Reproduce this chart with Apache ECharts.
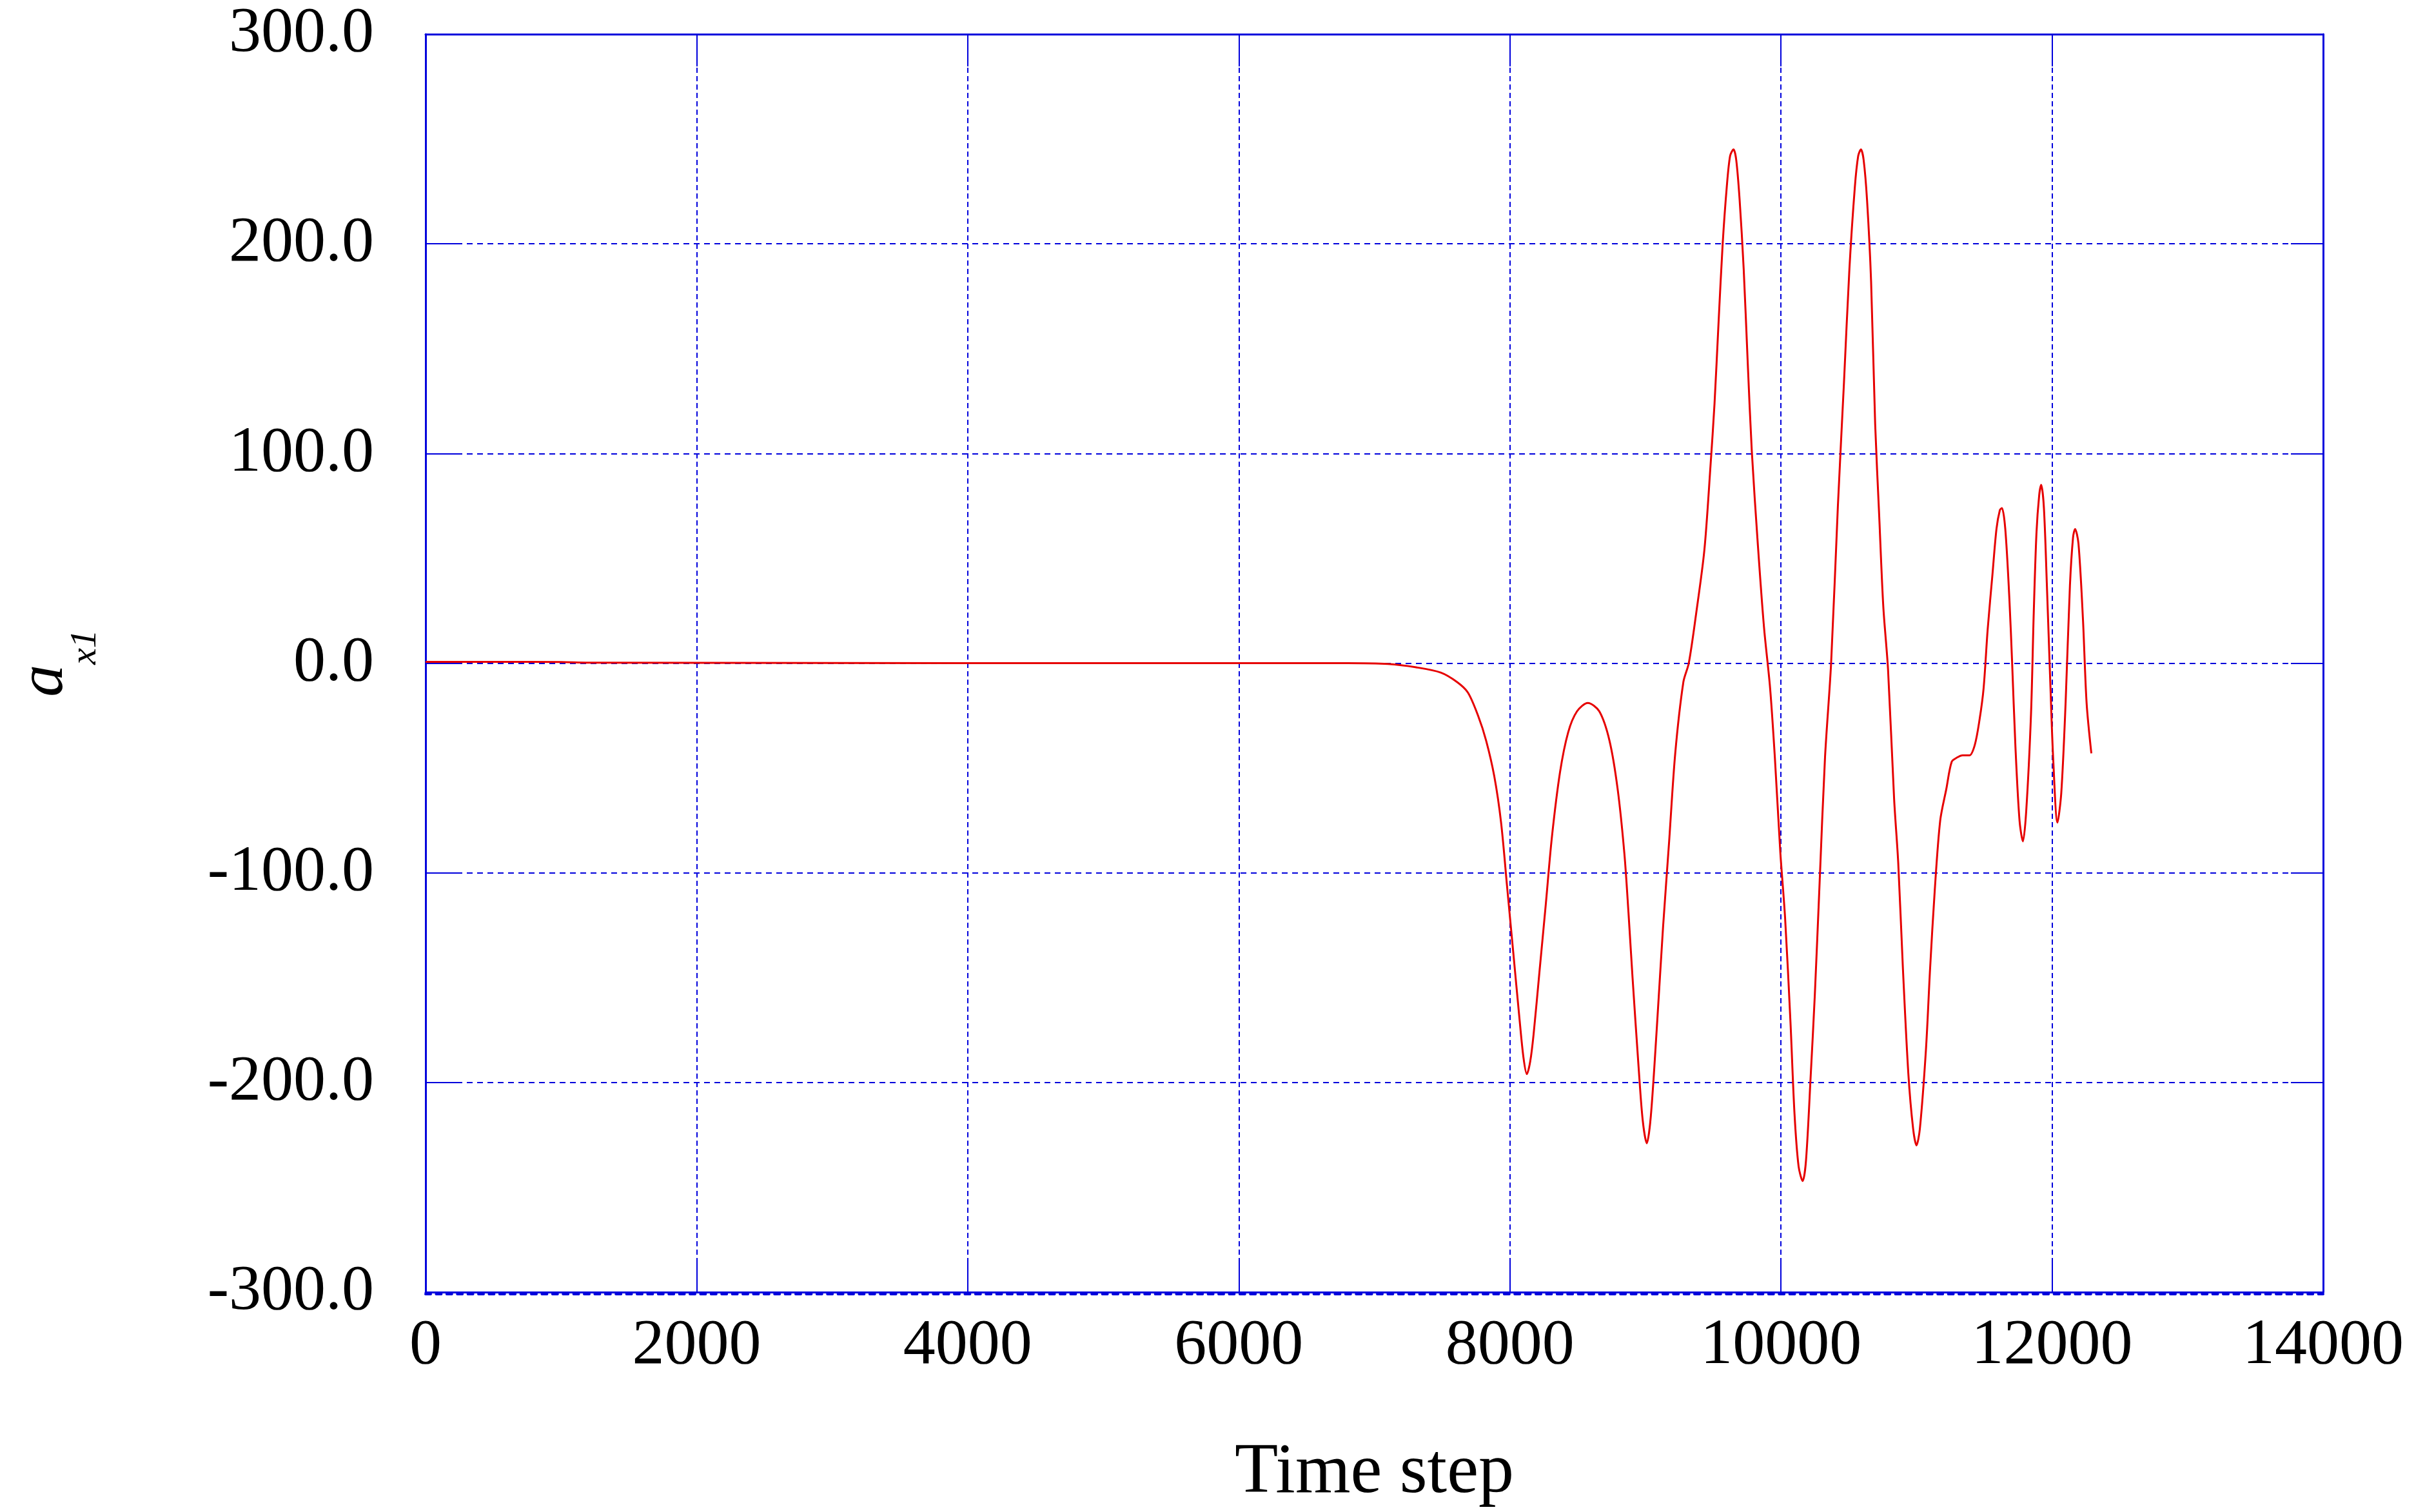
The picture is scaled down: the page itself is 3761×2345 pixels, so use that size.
<!DOCTYPE html>
<html>
<head>
<meta charset="utf-8">
<title>a_x1 vs time step</title>
<script src="https://cdn.jsdelivr.net/npm/echarts@6/dist/echarts.min.js"></script>
<style>
html, body { margin: 0; padding: 0; background: #fff; }
#chart { width: 3761px; height: 2345px; }
</style>
</head>
<body>
<div id="chart"></div>
<script>
// time steps and a_x1 values
var steps = [0, 500, 1000, 1200, 3000, 5000, 6800, 7100, 7310, 7490, 7610, 7690, 7765, 7825, 7885, 7935,
    7980, 8025, 8070, 8100, 8125, 8150, 8175, 8220, 8265, 8310, 8370, 8430, 8495, 8575, 8660, 8735,
    8795, 8845, 8875, 8905, 8950, 8980, 9010, 9040, 9085, 9130, 9175, 9220, 9280, 9320, 9375, 9435,
    9480, 9510, 9540, 9570, 9600, 9625, 9650, 9670, 9695, 9725, 9755, 9785, 9830, 9875, 9920, 9955,
    9995, 10030, 10070, 10100, 10130, 10160, 10185, 10220, 10250, 10285, 10325, 10370, 10420, 10465,
    10505, 10545, 10570, 10590, 10610, 10635, 10665, 10695, 10725, 10755, 10790, 10835, 10865, 10900,
    10940, 10975, 11000, 11025, 11070, 11100, 11135, 11175, 11220, 11260, 11300, 11340, 11390, 11430,
    11465, 11495, 11525, 11560, 11590, 11615, 11630, 11655, 11685, 11705, 11730, 11760, 11785, 11810,
    11845, 11865, 11885, 11905, 11920, 11940, 11962, 11987, 12008, 12040, 12068, 12100, 12132, 12155,
    12170, 12195, 12228, 12255, 12290];
var accel = [0.6, 0.6, 0.5, 0.2, 0.1, 0, 0, -0.4, -2, -4.5, -9, -14, -25, -37, -54, -76,
    -107, -138, -169, -188, -196, -190, -177, -146, -115, -83, -52, -33, -23, -19, -23, -37,
    -60, -91, -119, -150, -193, -218, -229, -216, -173, -126, -85, -43, -9, 0, 24, 54,
    94, 124, 163, 200, 227, 242, 245, 240, 221, 188, 143, 101, 56, 17, -12, -45,
    -90, -121, -171, -215, -240, -247, -237, -196, -158, -105, -45, 0, 75, 134,
    188, 227, 242, 245, 240, 221, 182, 114, 70, 27, -3, -65, -95, -146,
    -196, -222, -230, -222, -184, -146, -108, -75, -60, -47, -45, -44, -44, -39,
    -27, -12, 16, 42, 64, 73, 74, 64, 31, 1, -40, -75, -85, -70,
    -24, 24, 62, 80, 85, 74, 37, -9, -45, -76, -62, -19, 37, 60,
    64, 57, 21, -19, -43];
var xTicks = [0, 14000, 2000];     // min, max, interval
var yTicks = [-300, 300, 100];

var blue = '#0000dc';
var serif = "'Liberation Serif', 'Times New Roman', serif";

var chartObj = {
    chart : echarts.init(document.getElementById('chart')),
    init : function() {
        var data = [];
        steps.forEach(function(s, i) {
            data.push([s, accel[i]]);
        });
        this.render(data);
    },
    axisBase : function(xy, pos) {
        var t = xy == 'x' ? xTicks : yTicks;
        return {
            type : 'value',
            position : pos,
            min : t[0],
            max : t[1],
            interval : t[2],
            axisLine : { show : true, onZero : false, lineStyle : { color : blue, width : 3 } },
            axisTick : { show : true, inside : true, length : 50, lineStyle : { color : blue, width : 2 } },
            axisLabel : { show : false },
            splitLine : { show : false }
        };
    },
    render : function(data) {
        var xMain = this.axisBase('x', 'bottom');
        xMain.axisLabel = {
            show : true,
            margin : 34,
            fontFamily : serif,
            fontSize : 100,
            color : '#000',
            formatter : function(v) { return String(v); }
        };
        xMain.splitLine = { show : true, lineStyle : { color : blue, width : 2, type : [8, 5] } };
        xMain.name = 'Time step';
        xMain.nameLocation = 'middle';
        xMain.nameGap = 226;
        xMain.nameTextStyle = { fontFamily : serif, fontSize : 110, color : '#000' };

        // dashed strip just under the bottom frame
        var xStrip = this.axisBase('x', 'bottom');
        xStrip.offset = 3;
        xStrip.axisTick = { show : false };
        xStrip.axisLine = { show : true, onZero : false, lineStyle : { color : blue, width : 4, type : [8, 8.4] } };

        var xTop = this.axisBase('x', 'top');

        var yMain = this.axisBase('y', 'left');
        yMain.axisLabel = {
            show : true,
            margin : 80,
            fontFamily : serif,
            fontSize : 100,
            color : '#000',
            formatter : function(v) { return v.toFixed(1); }
        };
        yMain.splitLine = { show : true, lineStyle : { color : blue, width : 2, type : [9, 7] } };
        yMain.name = '{a|a}{s|x1}';
        yMain.nameLocation = 'middle';
        yMain.nameRotate = 90;
        yMain.nameGap = 540;
        yMain.nameTextStyle = {
            rich : {
                a : { fontFamily : serif, fontStyle : 'italic', fontSize : 100, lineHeight : 100, verticalAlign : 'top', color : '#000' },
                s : { fontFamily : serif, fontStyle : 'italic', fontSize : 58, lineHeight : 60, padding : [84, 0, 0, 0], verticalAlign : 'top', color : '#000' }
            }
        };

        var yRight = this.axisBase('y', 'right');

        var option = {
            animation : false,
            backgroundColor : '#fff',
            grid : { left : 660, right : 158, top : 53, bottom : 330 },
            xAxis : [xMain, xStrip, xTop],
            yAxis : [yMain, yRight],
            series : [{
                type : 'line',
                xAxisIndex : 0,
                yAxisIndex : 0,
                data : data,
                showSymbol : false,
                smooth : 0.3,
                lineStyle : { color : '#e60000', width : 3 },
                z : 3
            }]
        };
        this.chart.setOption(option);
    }
};
chartObj.init();
</script>
</body>
</html>
